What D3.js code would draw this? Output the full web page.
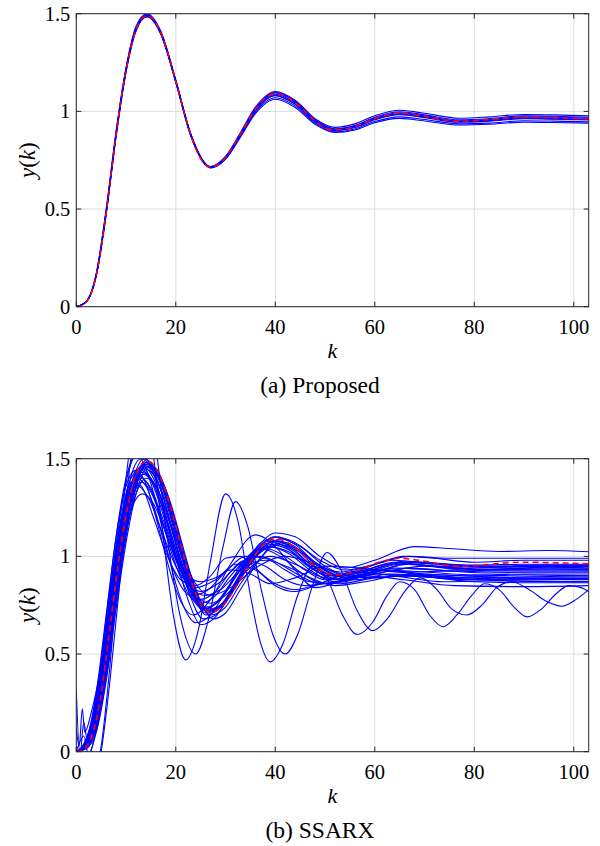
<!DOCTYPE html>
<html lang="en">
<head>
<meta charset="UTF-8">
<title>Step responses</title>
<script src="https://d3js.org/d3.v7.min.js"></script>
<style>
  body { margin: 0; background: #fff; }
</style>
</head>
<body>
<div id="chart"></div>
<script>
// true step response (red dashed), same in both panels
var kTrue = [0,1,2,3,4,5,6,7,8,9,10,11,12,13,14.2,16,18,20,22,24,26,27,28.5,30,33,36,38,40,42,44,48,50,52,54,56,60,65,70,74,77,81,85,90,95,100,103];
var yTrue = [0,0.005,0.025,0.07,0.16,0.30,0.48,0.68,0.88,1.06,1.21,1.33,1.42,1.47,1.49,1.452,1.331,1.155,0.966,0.81,0.725,0.715,0.728,0.764,0.883,1.010,1.069,1.09,1.078,1.044,0.951,0.915,0.905,0.909,0.923,0.963,0.99,0.975,0.956,0.95,0.954,0.964,0.97,0.968,0.964,0.962];

// (a) proposed: identified responses on a common k grid
var kProposed = [0,2,4,6,8,10,12,14.2,17,20,23,27,30,33,36,40,44,48,52,56,60,65,70,77,83,90,96,103];
var proposedRuns = [
  [0,0.026,0.165,0.49,0.89,1.22,1.43,1.495,1.405,1.158,0.882,0.712,0.762,0.885,1.015,1.098,1.052,0.958,0.91,0.928,0.97,0.998,0.982,0.957,0.963,0.977,0.975,0.97],
  [0,0.024,0.155,0.47,0.87,1.20,1.41,1.485,1.395,1.15,0.878,0.716,0.768,0.886,1.012,1.094,1.048,0.955,0.909,0.926,0.966,0.993,0.977,0.952,0.958,0.972,0.970,0.966],
  [0,0.025,0.16,0.48,0.88,1.21,1.42,1.488,1.398,1.15,0.876,0.71,0.756,0.872,0.995,1.07,1.028,0.94,0.896,0.91,0.948,0.972,0.958,0.936,0.94,0.952,0.95,0.946],
  [0,0.025,0.16,0.48,0.88,1.205,1.415,1.485,1.395,1.148,0.875,0.712,0.755,0.868,0.988,1.062,1.02,0.934,0.892,0.905,0.942,0.964,0.951,0.93,0.934,0.945,0.943,0.94],
  [0,0.027,0.17,0.5,0.9,1.225,1.435,1.50,1.41,1.16,0.886,0.718,0.77,0.892,1.022,1.102,1.057,0.962,0.918,0.936,0.978,1.006,0.99,0.965,0.972,0.984,0.982,0.977],
  [0,0.025,0.16,0.48,0.88,1.21,1.42,1.49,1.40,1.155,0.882,0.714,0.762,0.880,1.004,1.082,1.037,0.946,0.902,0.918,0.957,0.983,0.968,0.944,0.95,0.962,0.96,0.956],
  [0,0.025,0.16,0.48,0.88,1.21,1.42,1.492,1.402,1.156,0.883,0.716,0.765,0.884,1.01,1.088,1.043,0.95,0.905,0.922,0.962,0.988,0.973,0.948,0.954,0.966,0.964,0.96],
  [0,0.026,0.162,0.485,0.885,1.215,1.425,1.493,1.403,1.157,0.884,0.713,0.76,0.878,1.003,1.08,1.036,0.947,0.903,0.92,0.96,0.986,0.971,0.947,0.953,0.965,0.962,0.958]
];

// (b) SSARX: each run as [k, y] points
var ssarxRuns = [
  [[0,0],[2,0.04],[4,0.2],[6,0.55],[8,0.97],[10,1.3],[11.5,1.45],[13,1.5],[15,1.46],[17,1.34],[19,1.16],[21,0.96],[23,0.79],[25.5,0.68],[28,0.7],[31,0.8],[35,0.96],[39,1.06],[43,1.03],[47,0.95],[52,0.88],[58,0.91],[65,0.96],[71,0.95],[78,0.93],[86,0.935],[95,0.945],[103,0.94]],
  [[0,0],[2,0.06],[4,0.28],[6,0.68],[8,1.1],[10,1.4],[12,1.52],[14,1.45],[16,1.28],[18,1.06],[20,0.86],[22,0.72],[24,0.66],[27,0.7],[30,0.82],[33,0.95],[37,1.04],[41,1.0],[45,0.92],[50,0.86],[56,0.89],[62,0.93],[70,0.92],[80,0.905],[90,0.91],[103,0.91]],
  [[0,0],[2,0.02],[4,0.13],[6,0.42],[8,0.8],[10,1.15],[12,1.38],[14,1.47],[16,1.43],[18,1.31],[20,1.14],[22,0.96],[24,0.82],[27,0.72],[30,0.77],[33,0.89],[36,1.02],[40,1.1],[44,1.06],[48,0.97],[53,0.92],[59,0.95],[66,1.0],[72,0.99],[80,0.97],[90,0.98],[103,0.98]],
  [[0,0],[2,0.03],[4,0.17],[6,0.48],[8,0.88],[10,1.2],[12,1.39],[13.5,1.45],[16,1.4],[18,1.28],[20,1.1],[22,0.92],[24,0.78],[26,0.7],[29,0.74],[32,0.86],[36,1.03],[40,1.12],[44,1.1],[49,1.0],[54,0.94],[60,0.98],[68,1.05],[75,1.04],[85,1.025],[95,1.03],[103,1.024]],
  [[0,0],[2,0.03],[4,0.19],[6,0.52],[8,0.92],[10,1.22],[11.5,1.37],[13,1.43],[15,1.4],[17,1.3],[19,1.15],[21,0.98],[23,0.84],[26,0.74],[29,0.78],[32,0.9],[35,1.01],[39,1.08],[43,1.05],[47,0.96],[52,0.9],[58,0.93],[64,0.97],[72,0.95],[82,0.945],[92,0.95],[103,0.95]],
  [[0,0],[2,0.05],[4,0.24],[6,0.6],[8,1.0],[10,1.28],[12.5,1.41],[15,1.34],[17,1.2],[19,1.03],[21,0.89],[23,0.79],[25,0.76],[28,0.8],[31,0.9],[34,0.98],[38,1.04],[42,1.0],[46,0.93],[50,0.88],[56,0.9],[62,0.93],[70,0.91],[80,0.9],[90,0.905],[103,0.9]],
  [[0,0],[2,0.02],[4,0.12],[6,0.4],[8,0.78],[10,1.12],[12,1.36],[14,1.48],[16,1.44],[18,1.33],[20,1.16],[22,0.98],[24,0.82],[27,0.7],[30,0.74],[33,0.86],[37,0.99],[41,1.07],[45,1.03],[49,0.95],[54,0.89],[60,0.92],[67,0.96],[75,0.94],[85,0.93],[95,0.935],[103,0.93]],
  [[0,0],[2,0.04],[4,0.22],[6,0.56],[8,0.95],[10,1.25],[11.5,1.39],[13,1.44],[15,1.39],[17,1.25],[19,1.08],[21,0.93],[23,0.82],[25,0.78],[28,0.82],[31,0.92],[34,0.98],[37,1.0],[41,0.96],[45,0.9],[49,0.86],[54,0.87],[60,0.91],[68,0.9],[78,0.88],[90,0.885],[103,0.88]],
  [[0,0],[2,0.05],[4,0.25],[6,0.64],[8,1.06],[10,1.38],[12.5,1.53],[15,1.46],[17,1.3],[19,1.1],[21,0.9],[23,0.74],[25,0.65],[28,0.69],[31,0.82],[34,0.96],[38,1.08],[42,1.05],[46,0.96],[51,0.9],[57,0.93],[63,0.98],[70,0.97],[80,0.955],[90,0.96],[103,0.96]],
  [[0,0],[2,0.015],[4,0.1],[6,0.36],[8,0.73],[10,1.07],[12,1.32],[14.5,1.46],[17,1.4],[19,1.27],[21,1.09],[23,0.91],[25,0.77],[27.5,0.68],[30,0.71],[33,0.83],[37,0.99],[41,1.09],[45,1.05],[50,0.95],[55,0.9],[61,0.93],[68,0.97],[76,0.955],[86,0.945],[95,0.95],[103,0.95]],
  [[0,0],[2,0.03],[4,0.16],[6,0.49],[8,0.9],[10,1.24],[12,1.44],[13.5,1.5],[16,1.44],[18,1.3],[20,1.12],[22,0.93],[24,0.79],[26,0.72],[29,0.75],[32,0.86],[35,0.97],[39,1.05],[43,1.01],[47,0.93],[52,0.87],[58,0.9],[64,0.94],[72,0.93],[82,0.915],[92,0.92],[103,0.92]],
  [[0,0],[2,0.04],[4,0.2],[6,0.52],[8,0.9],[10,1.18],[11.5,1.32],[13,1.38],[15,1.33],[17,1.2],[20,0.98],[23,0.84],[26,0.8],[29,0.83],[33,0.93],[38,0.98],[43,0.94],[48,0.88],[52,0.85],[58,0.87],[65,0.9],[74,0.89],[86,0.875],[103,0.87]],
  [[0,0],[2,0.05],[4,0.25],[6,0.6],[8,0.98],[10,1.25],[12.3,1.36],[14.5,1.3],[17,1.14],[20,0.95],[24,0.84],[28,0.88],[32,0.96],[36,0.93],[40,0.86],[44,0.83],[50,0.87],[56,0.92],[64,0.9],[74,0.87],[86,0.875],[103,0.87]],
  [[0,0],[2,0.03],[4,0.18],[6,0.5],[8,0.88],[10,1.15],[11.5,1.27],[13.3,1.32],[15.5,1.27],[18,1.12],[21,0.93],[25,0.82],[29,0.87],[34,0.98],[38,0.95],[42,0.88],[46,0.85],[52,0.87],[58,0.9],[66,0.88],[76,0.85],[90,0.845],[103,0.85]],
  [[0,0],[2,0.06],[4,0.3],[6,0.7],[8,1.1],[10,1.36],[12,1.44],[14,1.37],[16,1.2],[18,1.0],[20,0.83],[23.5,0.7],[27,0.78],[31,0.96],[36,1.11],[40,1.05],[44,0.93],[48,0.84],[54,0.88],[60,0.93],[68,0.91],[78,0.89],[90,0.895],[103,0.9]],
  [[0,0],[2,0.04],[4,0.21],[6,0.55],[8,0.95],[10,1.24],[11.5,1.35],[13,1.4],[15,1.35],[17,1.22],[20,1.0],[22.5,0.9],[25,0.87],[28,0.89],[31,0.93],[35,0.91],[39,0.86],[44,0.89],[50,0.95],[57,0.94],[65,0.92],[75,0.925],[88,0.93],[103,0.93]],
  [[0,0],[2,0.02],[4,0.14],[6,0.44],[8,0.82],[10,1.13],[12,1.32],[14,1.4],[16,1.36],[18,1.24],[21,1.02],[24,0.86],[27,0.8],[31,0.84],[36,0.94],[42,1.0],[48,0.96],[54,0.9],[60,0.89],[68,0.91],[78,0.9],[90,0.89],[103,0.89]],
  [[0,0],[1,0.02],[3,0.15],[5,0.45],[7,0.85],[9,1.18],[11,1.38],[13,1.36],[15.5,1.2],[18,1.02],[21,0.88],[24,0.85],[27,0.9],[30,0.99],[33,1.0],[36,0.94],[40,0.85],[44,0.82],[49,0.86],[55,0.92],[62,0.93],[70,0.9],[80,0.88],[92,0.885],[103,0.885]],
  [[0,-0.3],[4.8,0],[6.5,0.37],[8,0.8],[10,1.4],[12.8,1.75],[15,1.6],[17,1.2],[19.5,0.7],[22,0.47],[24.5,0.62],[27,0.98],[30,1.32],[32.5,1.18],[35,0.8],[37,0.56],[39,0.46],[41.5,0.55],[44.5,0.8],[47.5,0.95],[50.5,0.88],[53.5,0.7],[56.5,0.6],[59.5,0.66],[62.5,0.8],[65,0.87],[68,0.83],[71,0.7],[73.7,0.64],[76.5,0.7],[79.5,0.8],[82,0.86],[85,0.83],[88,0.74],[90.6,0.69],[93.5,0.73],[96.5,0.81],[99,0.85],[101.5,0.84],[103,0.82]],
  [[0,-0.4],[5,0],[6.8,0.37],[8.5,0.8],[10.5,1.4],[13.5,1.8],[16,1.55],[18,1.15],[21,0.68],[24,0.5],[26.5,0.67],[29.5,1.05],[32,1.28],[34.5,1.15],[37,0.85],[39.5,0.6],[42,0.5],[44.5,0.6],[47.5,0.85],[50.4,1.02],[53,0.94],[56.5,0.72],[59.6,0.62],[62.5,0.68],[66,0.82],[69,0.89],[72.5,0.83],[75.5,0.73],[78.5,0.7],[81.5,0.75],[84.5,0.84],[87.5,0.87],[91,0.83],[94.5,0.77],[97.6,0.745],[100.5,0.78],[103,0.83]],
  [[0,0.32],[0.6,0.03],[1.2,0.22],[1.7,0.1],[3,0.2],[5,0.45],[7,0.85],[9,1.2],[11,1.4],[13,1.45],[15,1.4],[17,1.27],[19,1.1],[21,0.93],[23,0.8],[25.5,0.73],[28,0.76],[31,0.86],[35,1.0],[39,1.07],[43,1.04],[47,0.96],[52,0.9],[58,0.93],[65,0.97],[72,0.96],[82,0.945],[92,0.95],[103,0.95]],
  [[0,0.12],[0.8,0],[1.5,0.15],[2.2,0.06],[4,0.24],[6,0.57],[8,0.96],[10,1.27],[12,1.43],[13.5,1.47],[15.5,1.42],[17.5,1.3],[19.5,1.12],[21.5,0.94],[23.5,0.8],[26,0.71],[29,0.74],[32,0.86],[36,1.01],[40,1.08],[44,1.04],[48,0.95],[52,0.9],[58,0.92],[65,0.965],[72,0.95],[82,0.935],[92,0.94],[103,0.94]],
  [[0,0],[1,-0.05],[2.5,-0.02],[4,0.1],[6,0.38],[8,0.76],[10,1.1],[12,1.35],[14,1.47],[16,1.45],[18,1.34],[20,1.17],[22,0.98],[24,0.82],[26.5,0.72],[29,0.74],[32,0.85],[36,1.0],[40,1.08],[44,1.05],[48,0.96],[53,0.9],[59,0.93],[66,0.975],[74,0.96],[84,0.95],[95,0.955],[103,0.955]],
  [[0,0],[2,0.03],[4,0.18],[6,0.5],[8,0.9],[10,1.2],[12,1.38],[13.5,1.42],[15.5,1.37],[18,1.2],[21,0.96],[24,0.8],[27,0.76],[30,0.8],[34,0.92],[39,1.0],[44,0.96],[50,0.89],[56,0.88],[63,0.91],[72,0.9],[84,0.885],[103,0.885]],
  [[0,0],[2,0.04],[4,0.22],[6,0.57],[8,0.97],[10,1.27],[12,1.43],[13.5,1.46],[15.5,1.4],[18,1.21],[21,0.95],[23.5,0.79],[26,0.73],[29,0.78],[33,0.93],[38,1.05],[43,1.02],[48,0.93],[53,0.88],[60,0.91],[67,0.94],[76,0.925],[88,0.92],[103,0.92]],
  [[0,0],[2,0.02],[4,0.15],[6,0.45],[8,0.85],[10,1.18],[12,1.4],[14,1.48],[16,1.44],[18,1.32],[20,1.14],[22,0.95],[24,0.81],[26.5,0.73],[29,0.75],[32,0.87],[36,1.02],[40,1.1],[44,1.07],[49,0.98],[54,0.93],[60,0.96],[67,1.0],[75,0.99],[86,0.99],[103,0.99]],
  [[0,0],[2,0.05],[4,0.26],[6,0.62],[8,1.02],[10,1.3],[12,1.4],[14,1.36],[16,1.22],[18,1.04],[20,0.9],[23,0.8],[26,0.82],[30,0.92],[34,1.0],[38,0.99],[42,0.93],[47,0.87],[53,0.86],[60,0.89],[68,0.9],[80,0.87],[92,0.865],[103,0.865]],
  [[0,0],[1.5,0.08],[2.5,-0.02],[4,0.12],[6,0.42],[8,0.82],[10,1.16],[12,1.38],[14,1.46],[16,1.42],[18,1.3],[20,1.12],[22,0.94],[24,0.8],[26.5,0.72],[29,0.75],[33,0.9],[37,1.02],[41,1.06],[45,1.02],[50,0.93],[55,0.89],[62,0.92],[70,0.95],[80,0.935],[92,0.93],[103,0.93]]
];

var xTicks = [0, 20, 40, 60, 80, 100];
var yTicks = [0, 0.5, 1, 1.5];
var yTickLabels = ["0", "0.5", "1", "1.5"];
var captions = ["(a) Proposed", "(b) SSARX"];

var W = 600, H = 846;
var axLeft = 76.3, axRight = 588.7, axH = 293;
var panelTops = [13.7, 458.7];
var serif = "'Liberation Serif', 'Times New Roman', serif";

var svg = d3.select("#chart").append("svg")
    .attr("width", W)
    .attr("height", H);

var x = d3.scaleLinear().domain([0, 103]).range([axLeft, axRight]);

function drawPanel(idx, blueRuns) {
    var top = panelTops[idx];
    var y = d3.scaleLinear().domain([0, 1.5]).range([top + axH, top]);
    var g = svg.append("g").attr("font-family", serif);

    var clipId = "clip" + idx;
    svg.append("clipPath").attr("id", clipId)
        .append("rect")
        .attr("x", axLeft).attr("y", top)
        .attr("width", axRight - axLeft).attr("height", axH);

    // grid
    g.selectAll(".gx").data(xTicks).enter().append("line")
        .attr("x1", function(d) { return x(d); }).attr("x2", function(d) { return x(d); })
        .attr("y1", top).attr("y2", top + axH)
        .attr("stroke", "#dcdcdc").attr("stroke-width", 1);
    g.selectAll(".gy").data(yTicks).enter().append("line")
        .attr("x1", axLeft).attr("x2", axRight)
        .attr("y1", function(d) { return y(d); }).attr("y2", function(d) { return y(d); })
        .attr("stroke", "#dcdcdc").attr("stroke-width", 1);

    var line = d3.line()
        .x(function(d) { return x(d[0]); })
        .y(function(d) { return y(d[1]); })
        .curve(d3.curveMonotoneX);

    var data = g.append("g").attr("clip-path", "url(#" + clipId + ")");
    data.selectAll(".run").data(blueRuns).enter().append("path")
        .attr("d", line)
        .attr("fill", "none")
        .attr("stroke", "#0000ff")
        .attr("stroke-width", 1.1);

    data.append("path")
        .datum(kTrue.map(function(k, i) { return [k, yTrue[i]]; }))
        .attr("d", line)
        .attr("fill", "none")
        .attr("stroke", "#ff0000")
        .attr("stroke-width", 1.6)
        .attr("stroke-dasharray", "6,4");

    // box + inward ticks on all sides
    var ax = "#262626";
    g.append("rect")
        .attr("x", axLeft).attr("y", top)
        .attr("width", axRight - axLeft).attr("height", axH)
        .attr("fill", "none").attr("stroke", ax).attr("stroke-width", 1);
    xTicks.forEach(function(t) {
        g.append("line").attr("x1", x(t)).attr("x2", x(t))
            .attr("y1", top + axH).attr("y2", top + axH - 5).attr("stroke", ax);
        g.append("line").attr("x1", x(t)).attr("x2", x(t))
            .attr("y1", top).attr("y2", top + 5).attr("stroke", ax);
        g.append("text").attr("x", x(t)).attr("y", top + axH + 27)
            .attr("text-anchor", "middle").attr("font-size", 20.5).text(t);
    });
    yTicks.forEach(function(t, i) {
        g.append("line").attr("x1", axLeft).attr("x2", axLeft + 5)
            .attr("y1", y(t)).attr("y2", y(t)).attr("stroke", ax);
        g.append("line").attr("x1", axRight).attr("x2", axRight - 5)
            .attr("y1", y(t)).attr("y2", y(t)).attr("stroke", ax);
        g.append("text").attr("x", axLeft - 6).attr("y", y(t) + 7)
            .attr("text-anchor", "end").attr("font-size", 20.5).text(yTickLabels[i]);
    });

    // axis labels
    g.append("text").attr("x", (axLeft + axRight) / 2).attr("y", top + axH + 51)
        .attr("text-anchor", "middle").attr("font-size", 22).attr("font-style", "italic").text("k");

    var yl = g.append("text")
        .attr("transform", "translate(35," + (top + axH / 2) + ") rotate(-90)")
        .attr("text-anchor", "middle").attr("font-size", 23);
    yl.append("tspan").attr("font-style", "italic").text("y");
    yl.append("tspan").text("(");
    yl.append("tspan").attr("font-style", "italic").text("k");
    yl.append("tspan").text(")");

    g.append("text").attr("x", 320).attr("y", top + axH + 86)
        .attr("text-anchor", "middle").attr("font-size", 23.5).text(captions[idx]);
}

drawPanel(0, proposedRuns.map(function(r) { return r.map(function(v, i) { return [kProposed[i], v]; }); }));
drawPanel(1, ssarxRuns);
</script>
</body>
</html>
